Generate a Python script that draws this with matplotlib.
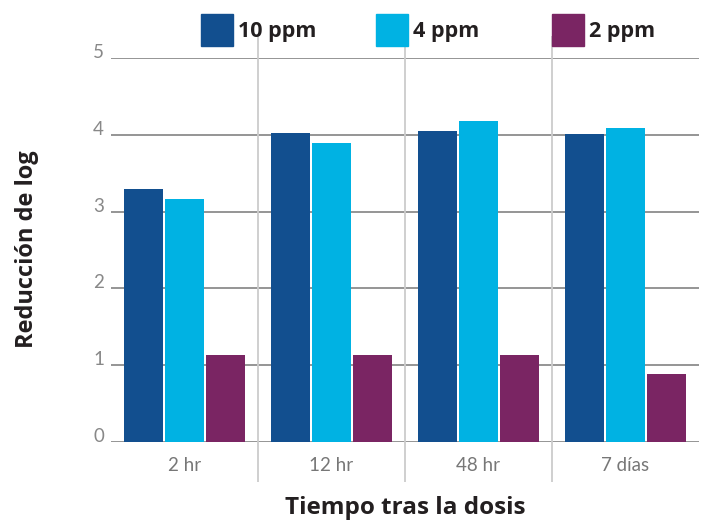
import numpy as np
import matplotlib
matplotlib.use("Agg")
from matplotlib import pyplot as plt
from matplotlib.patches import Rectangle

plt.rcParams['font.family'] = ['Open Sans', 'DejaVu Sans']

categories = ["2 hr", "12 hr", "48 hr", "7 días"]
series_names = ["10 ppm", "4 ppm", "2 ppm"]
ppm10 = [3.29, 4.02, 4.05, 4.01]
ppm4 = [3.16, 3.89, 4.18, 4.09]
ppm2 = [1.13, 1.13, 1.13, 0.88]
colors = ["#124f8f", "#00b2e3", "#7a2563"]

values = [ppm10, ppm4, ppm2]

fig = plt.figure(figsize=(7.04, 5.21), dpi=100)
ax = fig.add_axes([111/704, 79/521, 588/704, 384/521])

x = np.arange(len(categories))
width = 0.265
step = 0.279

# horizontal grid lines
for yv in range(0, 6):
    ax.axhline(yv, color="#8c8c8c", lw=1.3, zorder=1)

# vertical separators between categories
for xv in x[:-1] + 0.5:
    ax.vlines(xv, -0.52, 5.29, color="#cccccc", lw=1.3, zorder=1, clip_on=False)

for i, vals in enumerate(values):
    ax.bar(x + (i - 1) * step, vals, width, color=colors[i], zorder=2)

ax.set_xlim(-0.5, len(categories) - 0.5)
ax.set_ylim(0, 5)
for s in ax.spines.values():
    s.set_visible(False)

ax.set_yticks(range(0, 6))
ax.set_yticklabels([str(v) for v in range(0, 6)], color="#888888", fontsize=13.5,
                   family=["Lato", "DejaVu Sans"])
for t in ax.get_yticklabels():
    t.set_va("baseline")
ax.tick_params(axis="y", length=0, pad=5)

ax.set_xticks(x)
ax.set_xticklabels(categories, color="#777777", fontsize=13.5,
                   family=["Lato", "DejaVu Sans"])
ax.tick_params(axis="x", length=0, pad=11)

ax.set_xlabel("Tiempo tras la dosis", fontsize=17.5, fontweight="bold",
              color="#231f20", labelpad=16)
fig.text(27/704, (521-249)/521, "Reducción de log", rotation=90, fontsize=17,
         fontweight="bold", color="#231f20", ha="center", va="center")

# legend across the top
leg_x = [201, 376, 552]
for i, name in enumerate(series_names):
    fig.add_artist(Rectangle((leg_x[i]/704, (521-46)/521), 32/704, 32/521,
                             transform=fig.transFigure, color=colors[i]))
    fig.text((leg_x[i] + 37)/704, (521-31)/521, name, fontsize=15.5,
             fontweight="bold", color="#231f20", va="center", ha="left")

fig.savefig("out.png", dpi=100)
